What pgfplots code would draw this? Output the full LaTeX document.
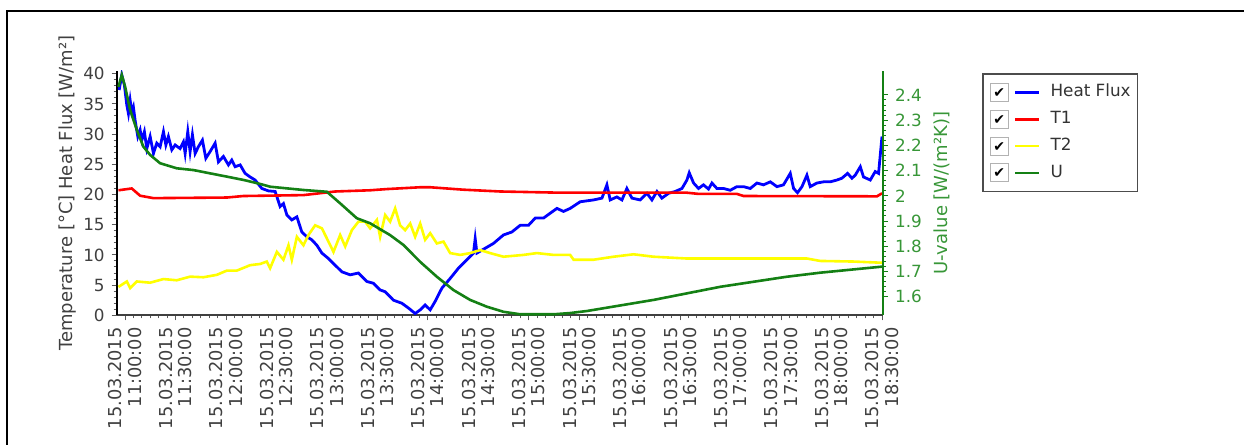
\documentclass[border=0pt]{standalone}
\usepackage{pgfplots}
\pgfplotsset{compat=1.18}
\usepackage{fontspec}
\setmainfont{DejaVu Sans}
\definecolor{hfc}{RGB}{0,0,255}
\definecolor{tac}{RGB}{255,0,0}
\definecolor{tbc}{RGB}{255,255,0}
\definecolor{uc}{RGB}{20,128,20}
\definecolor{ulab}{RGB}{55,150,55}
\definecolor{txt}{RGB}{64,64,64}
\newcommand\xtf{\fontsize{8.9}{9.6}\selectfont}
\newcommand\ytf{\fontsize{8.4}{9}\selectfont}
\newcommand\lbf{\fontsize{9}{10}\selectfont}
\newcommand\lgf{\fontsize{8.4}{9}\selectfont}
\begin{document}
\begin{tikzpicture}[x=1pt,y=1pt]
\useasboundingbox (0,0) rectangle (622,222.5);
\draw[line width=1pt] (3.5,0) -- (3.5,217) -- (622,217);
\begin{axis}[
  at={(58.35pt,64.85pt)}, anchor=south west, scale only axis,
  width=383.15pt, height=122.3pt,
  xmin=10.9167, xmax=18.51, ymin=0, ymax=40.5,
  axis x line*=bottom, axis y line*=left,
  x axis line style={black!75, line width=1.2pt},
  y axis line style={black, line width=1pt},
  xtick={11,11.5,...,18.5}, minor x tick num=5,
  ytick={0,5,...,40}, minor y tick num=4,
  tick align=outside,
  major tick length=2.5pt, minor tick length=1.5pt,
  tick style={black!65, line width=0.5pt},
  xticklabels={{15.03.2015\\11:00:00},{15.03.2015\\11:30:00},{15.03.2015\\12:00:00},{15.03.2015\\12:30:00},{15.03.2015\\13:00:00},{15.03.2015\\13:30:00},{15.03.2015\\14:00:00},{15.03.2015\\14:30:00},{15.03.2015\\15:00:00},{15.03.2015\\15:30:00},{15.03.2015\\16:00:00},{15.03.2015\\16:30:00},{15.03.2015\\17:00:00},{15.03.2015\\17:30:00},{15.03.2015\\18:00:00},{15.03.2015\\18:30:00}},
  x tick label style={rotate=90, anchor=east, align=right, font=\xtf, text=txt},
  y tick label style={font=\ytf, text=txt},
  /pgf/number format/assume math mode=true,
  ylabel={Temperature [°C] Heat Flux [W/m²]},
  ylabel style={at={(axis description cs:-0.0636,0.5)}, anchor=center, font=\lbf, text=txt},
]
\addplot[hfc, line width=1.4pt] coordinates {
(10.941,37.3) (10.967,39.8) (10.993,38.1) (11.017,34.8) (11.033,33.4) (11.050,35.6) (11.066,33.7) (11.082,34.5) (11.099,32.3) (11.126,29.6) (11.149,30.7) (11.166,29.0) (11.191,30.4) (11.215,27.6) (11.248,29.6) (11.281,26.8) (11.314,28.5) (11.347,27.9) (11.380,30.4) (11.404,28.2) (11.429,29.6) (11.463,27.4) (11.496,28.2) (11.545,27.6) (11.578,28.7) (11.595,26.8) (11.621,30.4) (11.644,27.1) (11.667,29.9) (11.694,26.8) (11.726,27.9) (11.766,29.0) (11.800,26.0) (11.842,27.1) (11.892,28.5) (11.925,25.4) (11.974,26.3) (12.024,24.9) (12.057,25.7) (12.090,24.6) (12.140,24.9) (12.189,23.5) (12.239,22.9) (12.288,22.4) (12.355,21.0) (12.420,20.6)
(12.487,20.5) (12.536,18.0) (12.569,18.5) (12.603,16.6) (12.652,15.8) (12.702,16.3) (12.751,13.8) (12.801,13.0) (12.850,12.5) (12.900,11.6) (12.950,10.3) (13.015,9.4) (13.081,8.3) (13.148,7.2) (13.230,6.7) (13.312,7.0) (13.396,5.6) (13.461,5.3) (13.527,4.2) (13.577,3.9) (13.659,2.5) (13.742,2.0) (13.808,1.2) (13.874,0.3) (13.924,0.9) (13.973,1.7) (14.023,0.9) (14.072,2.3) (14.139,4.5) (14.221,6.1) (14.303,7.8) (14.386,9.2) (14.452,10.3) (14.469,12.7) (14.486,10.3) (14.568,11.1) (14.650,11.9) (14.749,13.3) (14.833,13.8) (14.915,14.9) (14.997,14.9) (15.064,16.1) (15.146,16.1) (15.212,16.9) (15.279,17.7) (15.344,17.2)
(15.410,17.7) (15.510,18.8) (15.641,19.1) (15.725,19.4) (15.774,21.6) (15.807,19.1) (15.873,19.6) (15.923,19.1) (15.972,21.0) (16.022,19.4) (16.104,19.1) (16.171,20.2) (16.220,19.1) (16.270,20.5) (16.319,19.4) (16.385,20.2) (16.451,20.5) (16.518,21.0) (16.567,22.4) (16.590,23.6) (16.633,21.9) (16.682,21.0) (16.731,21.6) (16.781,20.9) (16.815,21.9) (16.864,21.0) (16.930,21.0) (16.996,20.7) (17.062,21.3) (17.128,21.3) (17.195,21.0) (17.261,21.9) (17.326,21.6) (17.393,22.1) (17.459,21.3) (17.524,21.6) (17.591,23.5) (17.624,21.0) (17.663,20.3) (17.707,21.3) (17.756,23.2) (17.789,21.3) (17.855,21.9) (17.921,22.1) (17.987,22.1) (18.054,22.4) (18.103,22.7) (18.159,23.5) (18.202,22.7) (18.235,23.2) (18.285,24.6) (18.317,22.9) (18.384,22.4) (18.433,23.8) (18.466,23.5) (18.500,29.6)
};
\addplot[tac, line width=1.3pt] coordinates {
(10.934,20.7) (11.066,21.0) (11.149,19.8) (11.281,19.4) (12.008,19.5) (12.172,19.75) (12.767,19.9) (13.081,20.5) (13.428,20.7) (13.593,20.9) (13.924,21.2) (14.023,21.2) (14.350,20.8) (14.717,20.5) (15.311,20.3) (16.567,20.3) (16.682,20.1) (17.062,20.1) (17.128,19.75) (18.450,19.7) (18.500,20.2)
};
\addplot[tbc, line width=1.3pt] coordinates {
(10.934,4.7) (11.017,5.6) (11.050,4.5) (11.116,5.6) (11.248,5.4) (11.380,6.0) (11.512,5.8) (11.644,6.4) (11.776,6.3) (11.909,6.7) (12.008,7.4) (12.107,7.4) (12.239,8.3) (12.338,8.5) (12.404,8.9) (12.437,7.8) (12.504,10.5) (12.569,9.2) (12.619,11.6) (12.652,9.2) (12.702,13.0) (12.767,11.6) (12.817,13.3) (12.883,14.9) (12.950,14.4) (13.015,12.2) (13.065,10.5) (13.131,13.3) (13.181,11.4) (13.247,14.1) (13.312,15.5) (13.379,15.5) (13.428,14.4) (13.495,15.8) (13.527,13.0) (13.577,16.6) (13.626,15.5) (13.676,17.7) (13.725,14.9) (13.775,14.1) (13.825,15.2) (13.874,13.0) (13.924,15.2) (13.973,12.5) (14.023,13.6) (14.089,11.9) (14.155,12.2) (14.221,10.3) (14.320,10.0) (14.419,10.3) (14.518,10.8) (14.617,10.3) (14.749,9.7) (14.948,10.0) (15.080,10.3) (15.245,10.0) (15.410,10.0) (15.444,9.2) (15.641,9.2) (15.840,9.7) (16.038,10.1) (16.236,9.7) (16.567,9.4) (16.897,9.4) (17.227,9.4) (17.558,9.4) (17.756,9.4) (17.888,9.0) (18.218,8.9) (18.500,8.7)
};
\end{axis}
\begin{axis}[
  at={(58.35pt,64.85pt)}, anchor=south west, scale only axis,
  width=383.15pt, height=122.3pt,
  xmin=10.9167, xmax=18.51, ymin=1.526, ymax=2.496,
  axis x line=none, axis y line*=right,
  y axis line style={uc, line width=1pt},
  ytick={1.6,1.7,1.8,1.9,2,2.1,2.2,2.3,2.4}, minor y tick num=4,
  tick align=outside,
  major tick length=2.5pt, minor tick length=1.5pt,
  tick style={uc, line width=0.5pt},
  y tick label style={font=\ytf, text=ulab},
  /pgf/number format/assume math mode=true,
  ylabel={U-value [W/(m²K)]},
  ylabel style={at={(axis description cs:1.0766,0.5)}, anchor=center, rotate=0, font=\lbf, text=ulab},
  legend cell align=left,
  legend style={at={(axis description cs:1.1292,0.9906)}, anchor=north west,
    draw=black!70, line width=0.75pt, inner xsep=3.5pt, inner ysep=4.6pt,
    row sep=3.9pt, column sep=5pt, font=\lgf, text=black!80,
    nodes={inner sep=0pt, text height=6.5pt, text depth=2pt}},
  legend image code/.code={
    \draw[black!30, fill=white, line width=0.5pt, solid] (0pt,-4.5pt) rectangle (9pt,4.5pt);
    \node[text=black, inner sep=0pt, anchor=base, font=\fontsize{7}{7}\selectfont] at (4.5pt,-2.5pt) {✔};
    \draw (12.5pt,0pt) -- (24.5pt,0pt);
  },
]
\addlegendimage{hfc, line width=1.3pt}
\addlegendentry{Heat Flux\hspace{3pt}}
\addlegendimage{tac, line width=1.3pt}
\addlegendentry{T1}
\addlegendimage{tbc, line width=1.3pt}
\addlegendentry{T2}
\addplot[uc, line width=1.3pt] coordinates {
(10.934,2.432) (10.967,2.479) (11.000,2.433) (11.050,2.340) (11.116,2.261) (11.181,2.195) (11.248,2.162) (11.347,2.129) (11.512,2.109) (11.677,2.102) (11.842,2.089) (12.008,2.076) (12.172,2.063) (12.338,2.047) (12.437,2.036) (12.767,2.023) (12.999,2.016) (13.131,1.970) (13.296,1.911) (13.428,1.891) (13.626,1.844) (13.758,1.805) (13.924,1.738) (14.089,1.679) (14.254,1.626) (14.419,1.587) (14.585,1.560) (14.749,1.540) (14.915,1.530) (15.245,1.530) (15.410,1.535) (15.576,1.543) (15.906,1.565) (16.236,1.587) (16.567,1.613) (16.897,1.639) (17.227,1.659) (17.558,1.679) (17.888,1.695) (18.218,1.708) (18.500,1.719)
};
\addlegendentry{U}
\end{axis}
\end{tikzpicture}
\end{document}
